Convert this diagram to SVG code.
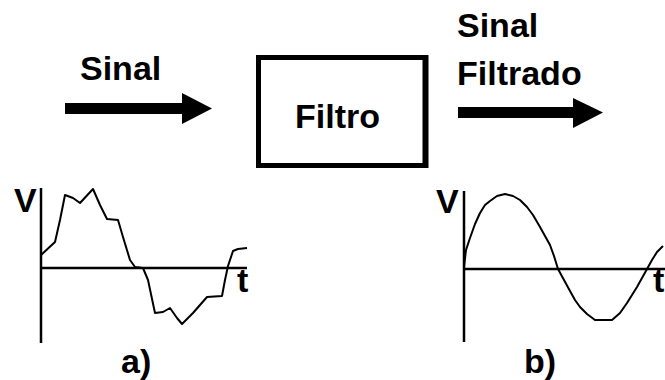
<svg xmlns="http://www.w3.org/2000/svg" width="665" height="380" viewBox="0 0 665 380">
<style>
text{font-family:"Liberation Sans",Arial,sans-serif;font-weight:bold;font-size:34px;fill:#000}
.ax{stroke:#000;stroke-width:2.5;fill:none}
.wave{stroke:#000;stroke-width:2;fill:none;stroke-linejoin:round}
.arr{fill:#000}
</style>
<rect width="665" height="380" fill="#fff"/>
<g id="input-label"><text x="80" y="80">Sinal</text></g>
<g id="filter">
<rect x="258.5" y="57.5" width="167" height="108" fill="none" stroke="#000" stroke-width="5"/>
<line x1="425.5" y1="55" x2="425.5" y2="168" stroke="#000" stroke-width="6"/>
<text x="295" y="128">Filtro</text>
</g>
<g id="output-label"><text x="457" y="37">Sinal</text><text x="457" y="85">Filtrado</text></g>
<g id="connectors">
<rect class="arr" x="65" y="103" width="118" height="11"/>
<polygon class="arr" points="182,93 212,108.5 182,124"/>
<rect class="arr" x="458" y="107" width="116" height="11"/>
<polygon class="arr" points="573,98 603,112.5 573,128"/>
</g>
<g id="graph-a">
<line class="ax" x1="41" y1="188" x2="41" y2="343"/>
<line class="ax" x1="41" y1="268" x2="247" y2="268"/>
<text x="14" y="212" font-size="32">V</text>
<text x="237" y="292" font-size="32">t</text>
<polyline class="wave" points="41,255 55,242 60,220 65,195 73,198 80,203 93,189 100,205 107,219 118,220 123,237 130,260 135,267 143,268 148,280 155,313 163,312 170,308 177,318 182,324 193,313 207,297 222,296 225,280 228,266 233,251 238,249 247,248"/>
<text x="121" y="373" font-size="32">a)</text>
</g>
<g id="graph-b">
<line class="ax" x1="464" y1="191" x2="464" y2="342"/>
<line class="ax" x1="464" y1="269" x2="665" y2="269"/>
<text x="436" y="213" font-size="32">V</text>
<text x="653" y="292" font-size="32">t</text>
<polyline class="wave" points="464,267 466,250 470,238 475,224 480,213 485,205 490,201 497,196 505,194 513,196 520,200 527,207 533,215 540,227 545,236 550,245 554,256 558,269 564,280 570,291 575,300 580,307 587,314 595,320 612,320 620,313 627,303 632,295 637,287 642,278 647,269 652,260 657,252 663,246"/>
<text x="524" y="373" font-size="32">b)</text>
</g>
</svg>
